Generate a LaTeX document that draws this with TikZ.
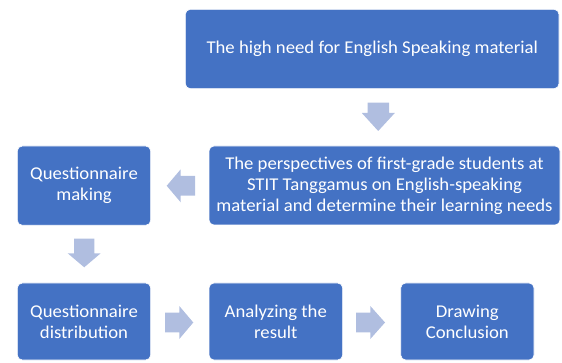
\documentclass[tikz,border=0pt]{standalone}
\usepackage{fontspec}
\setmainfont{Carlito}[FakeStretch=1.04]
\definecolor{boxblue}{RGB}{68,114,196}
\definecolor{arrblue}{RGB}{176,190,224}
\begin{document}
\begin{tikzpicture}[x=1pt,y=-1pt,
  box/.style={fill=boxblue,draw=white,line width=0.6pt,rounded corners=5pt},
  lbl/.style={text=white,align=center,font=\fontsize{18}{20.8}\selectfont,inner sep=0pt},
  blockarrow/.style={fill=arrblue,draw=none}]
\useasboundingbox (0,0) rectangle (562,363);
% boxes
\draw[box] (185.3,9.3) rectangle (559,88.7);
\node[lbl] (top) at (372.2,48.5) {The high need for English Speaking material};
\draw[box] (209,146) rectangle (560,225);
\node[lbl] (mid) at (384.5,186) {The perspectives of first-grade students at\\STIT Tanggamus on English-speaking\\material and determine their learning needs};
\draw[box] (17.3,146) rectangle (150.7,225.3);
\node[lbl] (qm) at (84,185.6) {Questionnaire\\making};
\draw[box] (17.3,283) rectangle (150.7,360);
\node[lbl] (qd) at (84,321.5) {Questionnaire\\distribution};
\draw[box] (209,283) rectangle (342.7,360);
\node[lbl] (ar) at (275.8,321.5) {Analyzing the\\result};
\draw[box] (400.7,283) rectangle (534,360);
\node[lbl] (dc) at (467.3,321.5) {Drawing\\Conclusion};
% block arrows
% down arrow top -> mid
\fill[blockarrow] (367.5,102.7) -- (389,102.7) -- (389,113) -- (394.8,113) -- (378.2,131) -- (361.8,113) -- (367.5,113) -- cycle;
% left arrow mid -> qm
\fill[blockarrow] (195,175.8) -- (180.7,175.8) -- (180.7,169.3) -- (166.7,185.8) -- (180.7,202.3) -- (180.7,195.6) -- (195,195.6) -- cycle;
% down arrow qm -> qd
\fill[blockarrow] (74,238.7) -- (94.4,238.7) -- (94.4,253.3) -- (100.7,253.3) -- (84.2,267.3) -- (67.7,253.3) -- (74,253.3) -- cycle;
% right arrow qd -> ar
\fill[blockarrow] (165,312.7) -- (179.3,312.7) -- (179.3,306) -- (193.3,322.5) -- (179.3,339) -- (179.3,332.3) -- (165,332.3) -- cycle;
% right arrow ar -> dc
\fill[blockarrow] (356,312.7) -- (370.3,312.7) -- (370.3,306) -- (385,322.5) -- (370.3,339) -- (370.3,332.3) -- (356,332.3) -- cycle;
\end{tikzpicture}
\end{document}
